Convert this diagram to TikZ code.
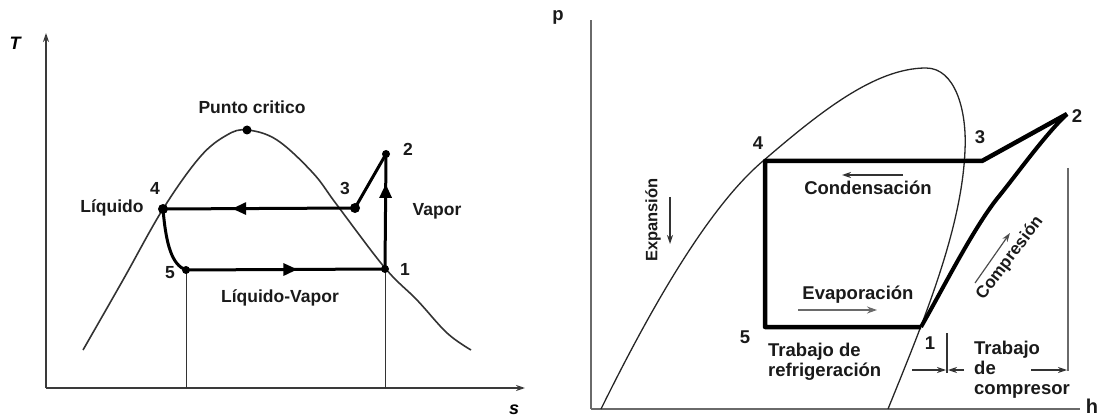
\documentclass[tikz,border=0pt]{standalone}
\usepackage{fontspec}
\setmainfont{Liberation Sans}
\usetikzlibrary{arrows.meta,decorations.markings}
\definecolor{textc}{HTML}{1A1A1A}
\definecolor{axisc}{HTML}{3A3A3A}
\definecolor{grayc}{HTML}{6A6A6A}
\begin{document}
\begin{tikzpicture}[x=1pt,y=-1pt,
  lbl/.style={font=\fontsize{17.5}{20}\selectfont\bfseries, text=textc, inner sep=0pt},
  rlbl/.style={font=\fontsize{18.5}{20}\selectfont\bfseries, text=textc, inner sep=0pt},
  axislbl/.style={font=\fontsize{18}{20}\selectfont\bfseries\itshape, text=black, inner sep=0pt},
  axisline/.style={line width=2pt, draw=axisc},
  thincurve/.style={line width=1.3pt, draw=black!85},
  cycleL/.style={line width=3pt, draw=black},
  cycleR/.style={line width=4.5pt, draw=black, line join=round},
  dotc/.style={fill=black},
  midarrow/.style={postaction={decorate}, decoration={markings, mark=at position #1 with {\arrow{Triangle[length=14pt,width=12pt]}}}},
  smallarr/.style={-{Stealth[length=9pt,width=6pt]}},
  guide/.style={line width=1pt, draw=black!80}
]
\useasboundingbox (0,0) rectangle (1101,417);

% ================= LEFT: T-s diagram =================
\coordinate (Lo) at (46,388);
\coordinate (Ly) at (46,33);
\coordinate (Lx) at (525,388);
\draw[axisline, -{Stealth[length=9pt,width=6pt]}] (Lo) -- (Ly);
\draw[axisline, -{Stealth[length=9pt,width=6pt]}] (Lo) -- (Lx);
\node[axislbl] (Tlab) at (15,43) {T};
\node[axislbl] (slab) at (514,410) {s};

% saturation dome
\draw[line width=1.6pt, draw=black!80] plot[smooth, tension=0.6] coordinates {
 (83,350) (123,280) (163,209) (200,157) (227,135) (247,130) (277,140)
 (313,173) (337,205) (385,268) (417,300) (447,333) (471,350)};

\coordinate (L1) at (385,269);
\coordinate (L2) at (386,154);
\coordinate (L3) at (355,208);
\coordinate (L4) at (163,209);
\coordinate (L5) at (186,270);
\coordinate (Lc) at (247,130);
\coordinate (L5b) at (186,388);
\coordinate (L1b) at (385,388);

% projections
\draw[guide] (L5) -- (L5b);
\draw[guide] (L1) -- (L1b);

% cycle
\draw[cycleL, midarrow=0.64] (L3) -- (L4);
\draw[cycleL, midarrow=0.56] (L5) -- (L1);
\draw[cycleL, midarrow=0.74] (L1) -- (L2);
\draw[cycleL] (L3) -- (L2);
\draw[cycleL] (L4) .. controls (166,245) and (172,265) .. (L5);

\fill[dotc] (Lc) circle (4.5pt);
\fill[dotc] (L4) circle (5pt);
\fill[dotc] (L3) circle (5pt);
\fill[dotc] (L2) circle (4pt);
\fill[dotc] (L5) circle (4pt);
\fill[dotc] (L1) circle (4pt);

\node[lbl] (tPC) at (252,107) {Punto critico};
\node[lbl] (t2) at (408,149) {2};
\node[lbl] (t3) at (345,188) {3};
\node[lbl] (t4) at (155,188) {4};
\node[lbl] (t1) at (405,269) {1};
\node[lbl] (t5) at (170,273) {5};
\node[lbl] (tLiq) at (112,208) {Líquido};
\node[lbl] (tVap) at (437,211) {Vapor};
\node[lbl] (tLV) at (280,298) {Líquido-Vapor};

% ================= RIGHT: p-h diagram =================
\coordinate (Ro) at (591,409);
\coordinate (Ry) at (591,20);
\coordinate (Rx) at (1080,409);
\draw[line width=1.8pt, draw=grayc] (Ro) -- (Ry);
\draw[line width=1.8pt, draw=grayc] (Ro) -- (Rx);
\node[rlbl] (plab) at (558,17) {p};
\node[rlbl, font=\fontsize{20}{20}\selectfont\bfseries] (hlab) at (1092,406) {h};

% saturation curve
\draw[thincurve] (601,409) .. controls (645,320) and (705,210) .. (763,161)
  .. controls (820,112) and (875,68) .. (926,68)
  .. controls (955,68) and (967,110) .. (965,150)
  .. controls (962,230) and (922,325) .. (888,409);

\coordinate (R1) at (921,327);
\coordinate (R2) at (1067,114);
\coordinate (R3) at (982,161);
\coordinate (R4) at (765,161);
\coordinate (R5) at (765,327);

\draw[cycleR] (R2) -- (R3) -- (R4) -- (R5) -- (R1);
\draw[cycleR, line width=4pt] (R1) .. controls (945,285) and (975,225) .. (1000,195)
  .. controls (1020,170) and (1045,135) .. (R2);

\node[rlbl] (r4) at (758,143) {4};
\node[rlbl] (r3) at (980,137) {3};
\node[rlbl] (r2) at (1077,116) {2};
\node[rlbl] (r5) at (745,337) {5};
\node[rlbl] (r1) at (930,343) {1};

% Condensacion
\node[rlbl] (tCond) at (868,188) {Condensación};
\coordinate (cA) at (903,175);
\coordinate (cB) at (842,175);
\draw[line width=1.2pt, draw=black!80, smallarr] (cA) -- (cB);

% Evaporacion
\node[rlbl] (tEvap) at (858,295) {Evaporación};
\coordinate (eA) at (798,310);
\coordinate (eB) at (877,310);
\draw[line width=2pt, draw=grayc, -{Stealth[length=10pt,width=7pt]}] (eA) -- (eB);

% Expansion
\node[rlbl, rotate=90, font=\fontsize{16.5}{20}\selectfont\bfseries] (tExp) at (653,220) {Expansión};
\coordinate (xA) at (670,197);
\coordinate (xB) at (670,244);
\draw[line width=1.4pt, draw=black!80, smallarr] (xA) -- (xB);

% Compresion
\node[rlbl, rotate=53, font=\fontsize{17}{20}\selectfont\bfseries] (tComp) at (1010,258) {Compresión};
\coordinate (kA) at (975,283);
\coordinate (kB) at (1010,233);
\draw[line width=1.2pt, draw=black!70, smallarr] (kA) -- (kB);

% Trabajo de refrigeracion
\node[rlbl, anchor=west, align=left] (tRef) at (768,362) {Trabajo de\\refrigeración};

% Trabajo de compresor
\node[rlbl, anchor=west, align=left] (tComW) at (974,370) {Trabajo\\de\\compresor};

% brackets
\coordinate (b1t) at (947,333);
\coordinate (b1b) at (947,373);
\draw[line width=1.3pt, draw=black!80] (b1t) -- (b1b);
\coordinate (a1s) at (912,370);
\coordinate (a1e) at (946,370);
\draw[line width=1.3pt, draw=black!80, smallarr] (a1s) -- (a1e);
\coordinate (a2s) at (964,370);
\coordinate (a2e) at (948,370);
\draw[line width=1.3pt, draw=black!80, smallarr] (a2s) -- (a2e);
\coordinate (b2t) at (1068,168);
\coordinate (b2b) at (1068,371);
\draw[line width=1.6pt, draw=grayc] (b2t) -- (b2b);
\coordinate (a3s) at (1031,370);
\coordinate (a3e) at (1067,370);
\draw[line width=1.3pt, draw=black!80, smallarr] (a3s) -- (a3e);
\end{tikzpicture}
\end{document}
